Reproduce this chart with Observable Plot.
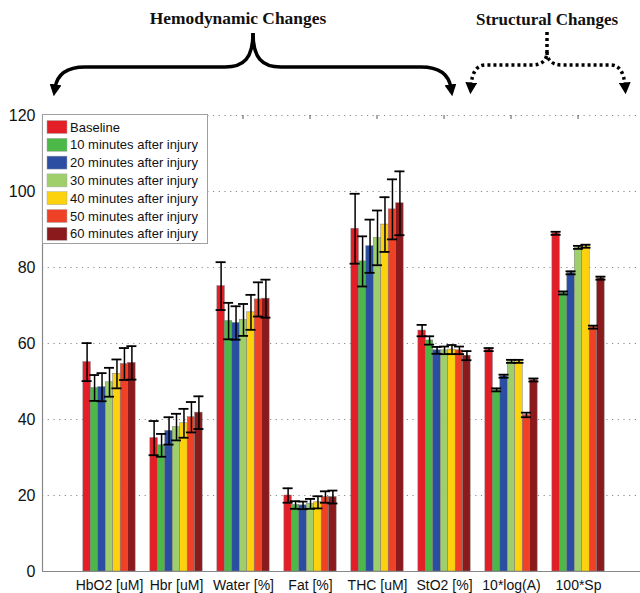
<!DOCTYPE html>
<html>
<head>
<meta charset="utf-8">
<script src="https://cdn.jsdelivr.net/npm/d3@7"></script>
<script src="https://cdn.jsdelivr.net/npm/@observablehq/plot@0.6"></script>
<style>
  html, body { margin: 0; padding: 0; background: white; }
  svg.plot { overflow: hidden; }
</style>
</head>
<body>
<div id="chart"></div>
<script>
const categories = ["HbO2 [uM]", "Hbr [uM]", "Water [%]", "Fat [%]", "THC [uM]", "StO2 [%]", "10*log(A)", "100*Sp"];
const series = ["Baseline", "10 minutes after injury", "20 minutes after injury", "30 minutes after injury", "40 minutes after injury", "50 minutes after injury", "60 minutes after injury"];
const colors = ["#e31e26", "#4bb848", "#2b4ea2", "#9fcf6b", "#fcd20f", "#ef4126", "#8b1a1d"];

const baseline = [55.1, 35.1, 75.1, 20.0, 90.2, 63.4, 58.4, 89.0];
const min10    = [48.3, 33.2, 65.9, 17.5, 81.6, 60.8, 47.8, 73.3];
const min20    = [48.5, 37.0, 65.4, 17.4, 85.6, 58.2, 51.4, 78.6];
const min30    = [49.8, 38.0, 66.2, 17.8, 87.8, 58.2, 55.3, 85.3];
const min40    = [52.0, 39.0, 68.2, 18.2, 91.3, 58.4, 55.3, 85.6];
const min50    = [54.6, 40.6, 71.6, 19.6, 95.3, 58.2, 41.2, 64.3];
const min60    = [54.9, 41.8, 71.8, 19.6, 96.9, 56.8, 50.4, 77.2];

const errBaseline = [5.0, 4.5, 6.3, 1.9, 9.2, 1.5, 0.4, 0.4];
const err10       = [3.4, 3.0, 4.8, 1.0, 6.6, 1.1, 0.4, 0.4];
const err20       = [3.7, 3.6, 4.4, 1.0, 7.0, 0.9, 0.4, 0.4];
const err30       = [3.8, 3.5, 4.2, 1.3, 7.2, 1.0, 0.4, 0.4];
const err40       = [3.8, 3.8, 4.6, 1.6, 7.2, 1.2, 0.4, 0.4];
const err50       = [4.2, 4.0, 4.5, 1.5, 7.9, 1.0, 0.6, 0.4];
const err60       = [4.4, 4.3, 5.0, 1.7, 8.4, 1.2, 0.4, 0.4];

const yTicks = [0, 20, 40, 60, 80, 100, 120];

const values = [baseline, min10, min20, min30, min40, min50, min60];
const errors = [errBaseline, err10, err20, err30, err40, err50, err60];

// grouped bar layout (MATLAB style): groups at x = 1..8
const groupWidth = 0.78;
const barW = groupWidth / series.length;
const capHalf = 0.075;
const data = [];
categories.forEach((c, i) => {
  series.forEach((s, j) => {
    const cx = (i + 1) - groupWidth / 2 + (j + 0.5) * barW;
    data.push({category: c, series: s, value: values[j][i], err: errors[j][i], cx, x1: cx - barW / 2, x2: cx + barW / 2});
  });
});

const font = "'Liberation Sans', Arial, sans-serif";

const plot = Plot.plot({
  width: 640,
  height: 593,
  marginLeft: 42,
  marginRight: 0,
  marginTop: 115,
  marginBottom: 22,
  style: {fontFamily: font, background: "white", overflow: "hidden"},
  x: {domain: [0, 8.925], axis: null},
  y: {domain: [0, 120], axis: null},
  color: {domain: series, range: colors},
  marks: [
    Plot.gridY(yTicks.filter(t => t > 0), {stroke: "#8a8a8a", strokeOpacity: 1, strokeDasharray: "1.2,4.5", strokeWidth: 1}),
    Plot.rect(data, {x1: "x1", x2: "x2", y1: 0, y2: "value", fill: "series", stroke: "#7a7a7a", strokeWidth: 0.5}),
    Plot.ruleX(data, {x: "cx", y1: d => d.value - d.err, y2: d => d.value + d.err, stroke: "black", strokeWidth: 1.5}),
    Plot.ruleY(data, {y: d => d.value + d.err, x1: d => d.cx - capHalf, x2: d => d.cx + capHalf, stroke: "black", strokeWidth: 1.8}),
    Plot.ruleY(data, {y: d => d.value - d.err, x1: d => d.cx - capHalf, x2: d => d.cx + capHalf, stroke: "black", strokeWidth: 1.8}),
    Plot.ruleY([0], {stroke: "#888", strokeWidth: 1.2}),
    Plot.ruleX([0], {stroke: "#888", strokeWidth: 1.2}),
    Plot.axisY({ticks: yTicks, tickSize: 0, tickPadding: 7, fontSize: 16, label: null, fill: "#111"}),
    Plot.axisX({ticks: categories.map((c, i) => i + 1), tickFormat: i => categories[i - 1], tickSize: 0, tickPadding: 9, fontSize: 14, label: null, fill: "#111"})
  ]
});

document.getElementById("chart").appendChild(plot);

const svg = d3.select(plot);
const xs = plot.scale("x");
const ys = plot.scale("y");

// top tick marks at category positions
const topY = ys.apply(120);
svg.append("g").selectAll("line").data(categories).join("line")
  .attr("x1", (d, i) => xs.apply(i + 1)).attr("x2", (d, i) => xs.apply(i + 1))
  .attr("y1", topY).attr("y2", topY + 4)
  .attr("stroke", "#555").attr("stroke-width", 1);

// legend
const lg = svg.append("g").attr("font-family", font).attr("font-size", 13).attr("text-anchor", "start");
lg.append("rect").attr("x", 42.5).attr("y", 114.5).attr("width", 165).attr("height", 129)
  .attr("fill", "white").attr("stroke", "#a0a0a0").attr("stroke-width", 1);
series.forEach((s, k) => {
  const cy = 127 + 17.8 * k;
  lg.append("rect").attr("x", 47).attr("y", cy - 6.5).attr("width", 20).attr("height", 13)
    .attr("fill", colors[k]).attr("stroke", "#aaa").attr("stroke-width", 0.5);
  lg.append("text").attr("x", 70).attr("y", cy).attr("dy", "0.36em").attr("text-anchor", "start")
    .attr("fill", "#111").text(s);
});

// annotations: braces with arrows
const defs = svg.append("defs");
defs.append("marker").attr("id", "ah").attr("viewBox", "0 0 10 10")
  .attr("refX", 3).attr("refY", 5).attr("markerWidth", 3.4).attr("markerHeight", 3.4)
  .attr("orient", "auto")
  .append("path").attr("d", "M0,0 L10,5 L0,10 z").attr("fill", "black");

const ann = svg.append("g");
ann.append("text").attr("x", 238).attr("y", 24).attr("text-anchor", "middle")
  .attr("font-family", "'Liberation Serif', 'Times New Roman', serif").attr("font-weight", "bold")
  .attr("font-size", 17.4).attr("fill", "#111").text("Hemodynamic Changes");
ann.append("text").attr("x", 547).attr("y", 25).attr("text-anchor", "middle")
  .attr("font-family", "'Liberation Serif', 'Times New Roman', serif").attr("font-weight", "bold")
  .attr("font-size", 17).attr("fill", "#111").text("Structural Changes");

const solid = ["M253,33 C253,58 244,67 225,67 L85,67 C66,67 57,75 55,88",
               "M253,33 C253,58 262,67 281,67 L421,67 C440,67 449,75 451,88"];
solid.forEach(d => ann.append("path").attr("d", d).attr("fill", "none")
  .attr("stroke", "black").attr("stroke-width", 3.5).attr("marker-end", "url(#ah)"));

const dotted = ["M547,32 L547,52 C547,60 542,65 532,65 L486,65 C476,65 472,73 471,86",
                "M547,52 C547,60 552,65 562,65 L610,65 C620,65 624,73 625,86"];
dotted.forEach(d => ann.append("path").attr("d", d).attr("fill", "none")
  .attr("stroke", "black").attr("stroke-width", 3.5).attr("stroke-dasharray", "3,3")
  .attr("marker-end", "url(#ah)"));
</script>
</body>
</html>
